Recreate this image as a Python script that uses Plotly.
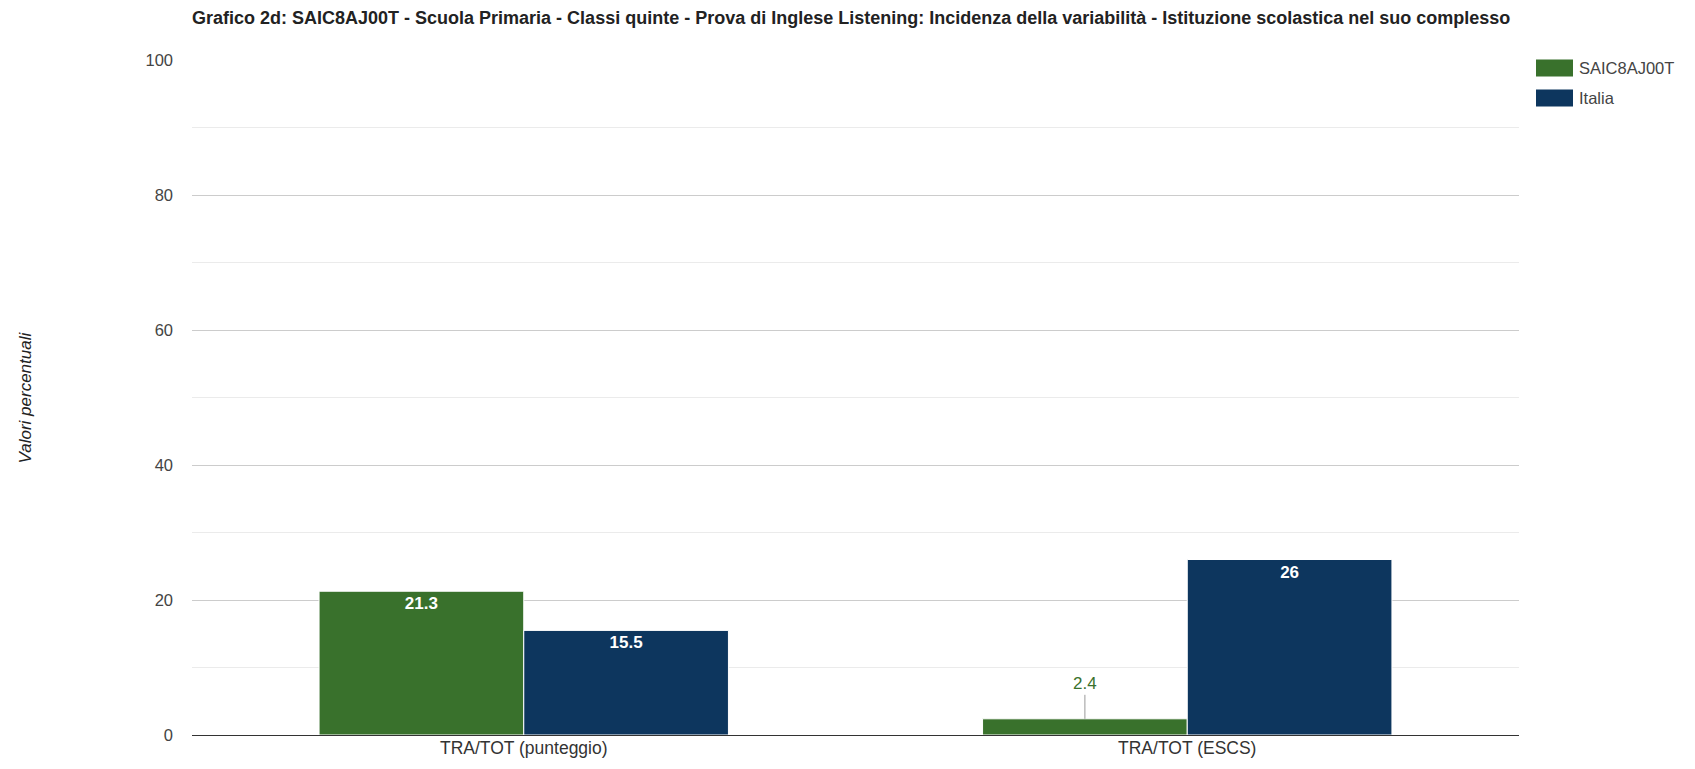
import plotly.graph_objects as go

categories = ["TRA/TOT (punteggio)", "TRA/TOT (ESCS)"]
school_name = "SAIC8AJ00T"
school_values = [21.3, 2.4]
italy_name = "Italia"
italy_values = [15.5, 26]
y_ticks = [0, 20, 40, 60, 80, 100]
title_text = ("Grafico 2d: SAIC8AJ00T - Scuola Primaria - Classi quinte - Prova di Inglese Listening: "
              "Incidenza della variabilità - Istituzione scolastica nel suo complesso")

GREEN = "#39712c"
BLUE = "#0d365e"
FONT = "Liberation Sans, Arial, sans-serif"

W, H = 1695, 769
L, R, T, B = 192, 176, 60, 34

def fmt(v):
    return ("%g" % v)

school_text = [fmt(v) if v >= 5 else "" for v in school_values]
italy_text = [fmt(v) if v >= 5 else "" for v in italy_values]

label_font = dict(color="white", size=17, family=FONT, weight="bold")

fig = go.Figure()
fig.add_trace(go.Bar(
    name=school_name, x=categories, y=school_values, marker_color=GREEN,
    marker_line=dict(color="white", width=1),
    text=school_text, textposition="inside", insidetextanchor="end",
    textfont=label_font, showlegend=False, hoverinfo="x+y"))
fig.add_trace(go.Bar(
    name=italy_name, x=categories, y=italy_values, marker_color=BLUE,
    marker_line=dict(color="white", width=1),
    text=italy_text, textposition="inside", insidetextanchor="end",
    textfont=label_font, showlegend=False, hoverinfo="x+y"))

plot_w = W - L - R
plot_h = H - T - B
cat_w = plot_w / len(categories)
bargap = 0.383
bar_px = cat_w * (1 - bargap) / 2

annotations = []
for vals, col, sign in ((school_values, GREEN, -1), (italy_values, BLUE, 1)):
    for i, v in enumerate(vals):
        if v < 5:
            annotations.append(dict(x=categories[i], y=v, xref="x", yref="y",
                                    xshift=sign * bar_px / 2, text=fmt(v), showarrow=True,
                                    arrowhead=0, arrowwidth=1, arrowcolor="#999999",
                                    ax=0, ay=-24, yanchor="bottom",
                                    font=dict(color=col, size=17, family=FONT)))

# custom legend
shapes = []
legend_items = [(school_name, GREEN), (italy_name, BLUE)]
for k, (name, col) in enumerate(legend_items):
    yc = 68 + 30 * k
    shapes.append(dict(type="rect", xref="paper", yref="paper",
                       x0=(1536 - L) / plot_w, x1=(1573 - L) / plot_w,
                       y0=1 - (yc + 8.5 - T) / plot_h, y1=1 - (yc - 8.5 - T) / plot_h,
                       fillcolor=col, line=dict(width=0)))
    annotations.append(dict(xref="paper", yref="paper", x=(1577 - L) / plot_w,
                            y=1 - (yc - T) / plot_h, text=name, showarrow=False,
                            xanchor="left", yanchor="middle",
                            font=dict(size=16.5, color="#444444", family=FONT)))

annotations.append(dict(xref="paper", yref="paper", x=(25 - L) / plot_w, y=0.5,
                        text="<i>Valori percentuali</i>", showarrow=False, textangle=-90,
                        xanchor="center", yanchor="middle",
                        font=dict(size=17, color="#222222", family=FONT)))

fig.update_layout(
    width=W, height=H,
    margin=dict(l=L, r=R, t=T, b=B, autoexpand=False),
    paper_bgcolor="white", plot_bgcolor="white",
    barmode="group", bargap=bargap, bargroupgap=0,
    title=dict(text=title_text, x=L / W, xanchor="left", y=1 - 18 / H, yanchor="middle",
               font=dict(size=18, color="#222222", family=FONT, weight="bold")),
    xaxis=dict(showgrid=False, showline=False, ticks="", automargin=False,
               tickfont=dict(size=17.5, color="#333333", family=FONT)),
    yaxis=dict(range=[0, 100], tickvals=y_ticks, showgrid=True, gridcolor="#cccccc",
               gridwidth=1, zeroline=True, zerolinecolor="#333333", zerolinewidth=1,
               automargin=False,
               tickfont=dict(size=16.5, color="#444444", family=FONT),
               ticklabelstandoff=18,
               minor=dict(dtick=10, showgrid=True, gridcolor="#ebebeb", gridwidth=1)),
    shapes=shapes, annotations=annotations,
    font=dict(family=FONT),
)

fig.write_html("out.html", config={"displayModeBar": False},
               post_script="document.body.style.margin='0';document.body.style.overflow='hidden';")
